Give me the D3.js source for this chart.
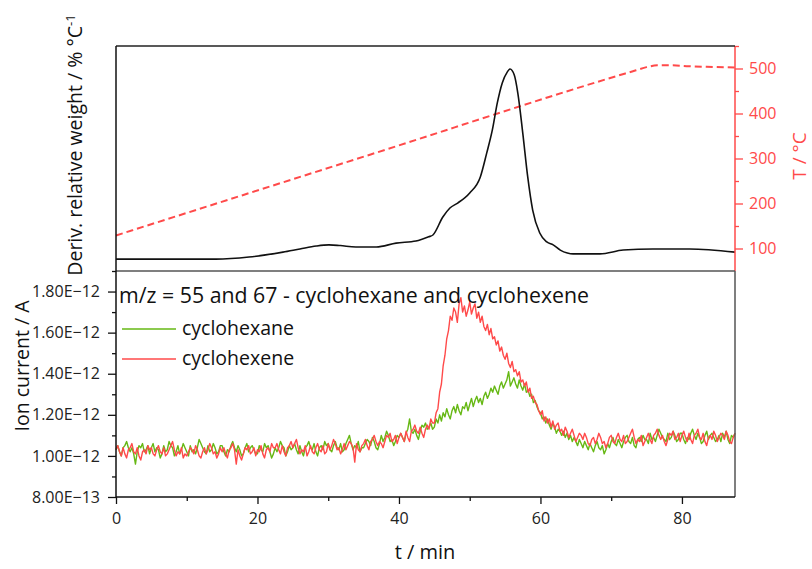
<!DOCTYPE html>
<html>
<head>
<meta charset="utf-8">
<script src="https://cdn.jsdelivr.net/npm/d3@7"></script>
<style>
  html, body { margin: 0; padding: 0; background: #fff; }
  svg { display: block; font-family: "Open Sans", "DejaVu Sans", sans-serif; }
</style>
</head>
<body>
<svg id="chart" width="812" height="569"></svg>
<script>
// ---- Data -------------------------------------------------------------
// Time axis (min)
const xTicks = [0, 20, 40, 60, 80];
// DTG curve: [time / min, derivative relative weight / % °C^-1]
const dtgTime = [0, 7.1, 14.1, 18.8, 23.6, 26.0, 28.3, 30.1, 31.7, 33.9, 36.8, 39.6, 42.4, 44.2,
  44.8, 46.2, 47.2, 48.3, 50.0, 51.5, 52.4, 53.2, 53.9, 54.6, 55.3, 55.7, 56.3, 56.8, 57.5, 58.2,
  58.9, 59.9, 60.9, 61.8, 62.8, 63.8, 64.6, 68.4, 71.7, 75.9, 81.1, 87.5];
const dtgValue = [0.053, 0.053, 0.053, 0.062, 0.084, 0.098, 0.111, 0.116, 0.113, 0.107, 0.107, 0.124, 0.133, 0.152,
  0.160, 0.240, 0.280, 0.302, 0.347, 0.418, 0.524, 0.627, 0.747, 0.836, 0.884, 0.898, 0.871, 0.791, 0.613, 0.418,
  0.271, 0.169, 0.129, 0.116, 0.093, 0.080, 0.076, 0.076, 0.093, 0.098, 0.098, 0.084];
// Furnace temperature: [time / min, T / °C]
const tempTime = [0, 36, 72, 73.5, 75, 76.5, 78.5, 81, 84.5, 87.5];
const tempValue = [129, 309, 489, 496, 503, 507, 507, 505, 503.5, 502];
const tempTicks = [100, 200, 300, 400, 500];
// Ion currents, sampled every 0.25 min from 0 to 87.5 min (units of 1e-12 A)
const msStep = 0.25;
const cyclohexane = [
  1.03,1.05,1.02,1.00,1.04,1.05,1.07,1.04,1.02,1.04,1.01,0.96,1.02,1.05,1.04,1.06,1.02,1.03,1.05,1.01,
  1.04,1.06,1.02,1.04,1.03,0.99,1.01,1.05,1.02,1.03,1.07,1.05,1.04,1.00,1.02,1.05,1.01,1.03,1.06,1.04,
  1.02,1.00,1.05,1.02,1.03,1.01,1.04,1.08,1.06,1.04,1.02,1.01,1.05,1.02,1.03,1.06,1.04,1.01,1.02,1.05,
  1.05,1.02,1.00,1.03,1.02,1.05,1.07,1.04,1.02,1.05,1.03,1.00,1.01,1.04,1.06,1.02,1.04,1.05,1.03,1.01,
  1.01,1.05,1.03,1.02,1.06,1.04,1.05,1.02,0.99,1.01,1.04,1.02,1.04,1.07,1.05,1.04,1.00,1.02,1.05,1.03,
  1.04,1.06,1.03,1.01,1.05,1.02,1.00,1.04,1.05,1.07,1.04,1.03,1.06,1.02,1.00,1.04,1.05,1.03,1.07,1.05,
  1.06,1.03,1.02,1.05,1.07,1.04,1.03,1.06,1.02,1.03,1.06,1.08,1.10,1.06,1.03,1.05,1.04,1.07,1.02,1.04,
  1.04,1.06,1.08,1.07,1.05,1.09,1.07,1.04,1.03,1.06,1.10,1.07,1.09,1.12,1.10,1.07,1.08,1.05,1.07,1.10,
  1.09,1.11,1.09,1.07,1.11,1.13,1.18,1.12,1.11,1.13,1.10,1.08,1.12,1.15,1.14,1.16,1.13,1.14,1.16,1.13,
  1.14,1.18,1.16,1.20,1.17,1.21,1.19,1.23,1.20,1.18,1.22,1.24,1.21,1.25,1.22,1.20,1.24,1.23,1.26,1.22,
  1.25,1.28,1.24,1.27,1.29,1.26,1.28,1.25,1.29,1.31,1.28,1.30,1.33,1.31,1.34,1.32,1.30,1.34,1.36,1.33,
  1.35,1.37,1.41,1.34,1.36,1.38,1.35,1.33,1.37,1.34,1.32,1.35,1.31,1.32,1.29,1.30,1.26,1.27,1.24,1.22,
  1.21,1.18,1.19,1.16,1.18,1.15,1.13,1.16,1.14,1.11,1.13,1.12,1.10,1.12,1.09,1.11,1.08,1.10,1.07,1.09,
  1.07,1.05,1.08,1.06,1.04,1.07,1.05,1.03,1.06,1.04,1.02,1.05,1.07,1.04,1.03,1.05,1.01,1.03,1.06,1.04,
  1.07,1.09,1.06,1.05,1.08,1.06,1.04,1.07,1.09,1.10,1.07,1.06,1.09,1.05,1.04,1.08,1.09,1.07,1.10,1.08,
  1.08,1.06,1.11,1.08,1.09,1.07,1.10,1.13,1.11,1.09,1.08,1.07,1.11,1.08,1.09,1.12,1.10,1.07,1.08,1.11,
  1.11,1.08,1.06,1.09,1.08,1.11,1.13,1.10,1.08,1.11,1.09,1.06,1.07,1.10,1.12,1.08,1.10,1.11,1.09,1.07,
  1.08,1.10,1.07,1.11,1.09,1.12,1.08,1.06,1.10,1.09,1.11
];
const cyclohexene = [
  1.03,1.05,1.02,1.00,1.04,1.01,0.99,1.03,1.04,1.06,1.02,1.01,1.04,1.00,0.98,1.02,1.03,1.01,1.05,1.03,
  1.04,1.01,1.00,1.03,1.05,1.02,1.01,1.04,1.00,1.01,1.03,1.05,1.07,1.03,1.00,1.02,1.01,1.04,0.99,1.01,
  1.00,1.02,1.04,1.03,1.01,1.05,1.03,1.00,0.99,1.02,1.04,1.01,1.03,1.06,1.04,1.01,1.02,0.99,1.01,1.04,
  1.02,1.04,1.01,0.99,1.03,1.04,1.06,1.03,0.96,1.03,1.00,0.98,1.01,1.04,1.03,1.05,1.01,1.02,1.04,1.00,
  1.03,1.02,1.05,1.01,0.99,1.03,1.04,1.02,1.06,1.04,1.04,1.06,1.03,1.01,1.05,1.02,1.00,1.04,1.05,1.07,
  1.04,1.06,1.08,1.04,1.01,1.03,1.02,1.05,1.00,1.02,1.05,1.02,1.01,1.04,1.06,1.03,1.02,1.05,1.01,1.02,
  1.06,1.03,1.05,1.08,1.06,1.03,1.04,1.01,1.03,1.06,1.03,1.05,1.07,1.06,1.04,0.97,1.06,1.03,1.02,1.05,
  1.06,1.08,1.05,1.03,1.07,1.08,1.10,1.07,1.05,1.07,1.06,1.04,1.07,1.10,1.09,1.11,1.07,1.08,1.10,1.06,
  1.09,1.11,1.09,1.07,1.12,1.09,1.07,1.12,1.13,1.15,1.12,1.11,1.14,1.11,1.09,1.13,1.15,1.13,1.18,1.16,
  1.16,1.21,1.23,1.31,1.35,1.44,1.49,1.57,1.61,1.68,1.66,1.72,1.70,1.65,1.74,1.77,1.70,1.73,1.68,1.71,
  1.75,1.69,1.72,1.74,1.67,1.70,1.65,1.68,1.63,1.61,1.64,1.59,1.62,1.57,1.58,1.54,1.56,1.51,1.53,1.49,
  1.47,1.50,1.45,1.43,1.46,1.41,1.42,1.39,1.41,1.36,1.37,1.34,1.36,1.31,1.33,1.28,1.29,1.26,1.25,1.22,
  1.20,1.22,1.17,1.19,1.16,1.18,1.14,1.17,1.13,1.15,1.16,1.12,1.13,1.10,1.14,1.12,1.09,1.11,1.13,1.10,
  1.07,1.09,1.11,1.10,1.08,1.11,1.09,1.06,1.05,1.08,1.09,1.06,1.08,1.11,1.09,1.06,1.07,1.04,1.06,1.09,
  1.10,1.07,1.06,1.09,1.11,1.08,1.07,1.10,1.06,1.07,1.09,1.11,1.13,1.09,1.06,1.08,1.07,1.10,1.05,1.07,
  1.09,1.11,1.08,1.06,1.10,1.11,1.13,1.10,1.08,1.10,1.07,1.05,1.08,1.11,1.10,1.12,1.08,1.09,1.11,1.07,
  1.10,1.12,1.09,1.07,1.11,1.08,1.06,1.10,1.11,1.13,1.09,1.08,1.11,1.07,1.05,1.09,1.10,1.08,1.12,1.10,
  1.07,1.09,1.11,1.10,1.08,1.12,1.10,1.07,1.06,1.09,1.11
];
const ionTicks = [0.8, 1.0, 1.2, 1.4, 1.6, 1.8];
const ionTickLabels = ["8.00E\u221213", "1.00E\u221212", "1.20E\u221212", "1.40E\u221212", "1.60E\u221212", "1.80E\u221212"];
const seriesNames = ["cyclohexane", "cyclohexene"];
const seriesColors = ["#66b814", "#ff4a4a"];

// ---- Layout -----------------------------------------------------------
const frame = { left: 116, right: 735, top: 46, mid: 271, bottom: 497 };
const svg = d3.select("#chart");
const font = "\"Open Sans\", \"DejaVu Sans\", sans-serif";
const tempColor = "#ff4a4a";

const x = d3.scaleLinear().domain([0, 87.5]).range([frame.left, frame.right]);
const yDtg = d3.scaleLinear().domain([0, 1]).range([frame.mid, frame.top]);
const yTemp = d3.scaleLinear().domain([50, 550]).range([frame.mid, frame.top]);
const yIon = d3.scaleLinear().domain([0.8, 1.9]).range([frame.bottom, frame.mid]);

// ---- Upper panel: DTG + temperature ------------------------------------
const dtg = dtgTime.map((t, i) => [t, dtgValue[i]]);
const temp = tempTime.map((t, i) => [t, tempValue[i]]);

svg.append("path")
  .datum(temp)
  .attr("fill", "none")
  .attr("stroke", tempColor)
  .attr("stroke-width", 2)
  .attr("stroke-dasharray", "7,4")
  .attr("d", d3.line().x(d => x(d[0])).y(d => yTemp(d[1])).curve(d3.curveMonotoneX));

svg.append("path")
  .datum(dtg)
  .attr("fill", "none")
  .attr("stroke", "#111")
  .attr("stroke-width", 1.6)
  .attr("d", d3.line().x(d => x(d[0])).y(d => yDtg(d[1])).curve(d3.curveMonotoneX));

// right temperature axis
const tAxis = svg.append("g")
  .attr("transform", `translate(${frame.right},0)`)
  .call(d3.axisRight(yTemp).tickValues(tempTicks).tickSize(8).tickPadding(6).tickFormat(d3.format("d")));
tAxis.select(".domain").remove();
tAxis.selectAll("line").attr("stroke", tempColor).attr("stroke-width", 1.3);
tAxis.selectAll("text").attr("fill", tempColor).style("font-family", font).style("font-size", "16px");
svg.append("g")
  .attr("transform", `translate(${frame.right},0)`)
  .call(d3.axisRight(yTemp).tickValues([150, 250, 350, 450, 550]).tickSize(4).tickFormat(""))
  .call(g => g.select(".domain").remove())
  .selectAll("line").attr("stroke", tempColor).attr("stroke-width", 1.3);
svg.append("line")
  .attr("x1", frame.right).attr("x2", frame.right).attr("y1", frame.top).attr("y2", frame.mid)
  .attr("stroke", tempColor).attr("stroke-width", 1.5);

// ---- Lower panel: ion currents ----------------------------------------
const line = d3.line().x((d, i) => x(i * msStep)).y(d => yIon(d));
[cyclohexane, cyclohexene].forEach((s, k) => {
  svg.append("path")
    .datum(s)
    .attr("fill", "none")
    .attr("stroke", seriesColors[k])
    .attr("stroke-width", 1.4)
    .attr("stroke-linejoin", "round")
    .attr("d", line);
});

// left ion axis
const iAxis = svg.append("g")
  .attr("transform", `translate(${frame.left},0)`)
  .call(d3.axisLeft(yIon).tickValues(ionTicks).tickSize(8).tickPadding(8)
    .tickFormat((d, i) => ionTickLabels[i]));
iAxis.select(".domain").remove();
iAxis.selectAll("line").attr("stroke", "#111").attr("stroke-width", 1.3);
iAxis.selectAll("text").attr("fill", "#222").style("font-family", font).style("font-size", "16px");
svg.append("g")
  .attr("transform", `translate(${frame.left},0)`)
  .call(d3.axisLeft(yIon).tickValues([0.9, 1.1, 1.3, 1.5, 1.7, 1.9]).tickSize(4).tickFormat(""))
  .call(g => g.select(".domain").remove())
  .selectAll("line").attr("stroke", "#111").attr("stroke-width", 1.3);

// bottom time axis
const xAxis = svg.append("g")
  .attr("transform", `translate(0,${frame.bottom})`)
  .call(d3.axisBottom(x).tickValues(xTicks).tickSize(7).tickPadding(9).tickFormat(d3.format("d")));
xAxis.select(".domain").remove();
xAxis.selectAll("line").attr("stroke", "#111").attr("stroke-width", 1.3);
xAxis.selectAll("text").attr("fill", "#222").style("font-family", font).style("font-size", "16px");
svg.append("g")
  .attr("transform", `translate(0,${frame.bottom})`)
  .call(d3.axisBottom(x).tickValues([10, 30, 50, 70]).tickSize(4).tickFormat(""))
  .call(g => g.select(".domain").remove())
  .selectAll("line").attr("stroke", "#111").attr("stroke-width", 1.3);

// ---- Frames -------------------------------------------------------------
svg.append("line").attr("x1", frame.left).attr("x2", frame.right).attr("y1", frame.top).attr("y2", frame.top)
  .attr("stroke", "#222").attr("stroke-width", 1.5);
svg.append("line").attr("x1", frame.left).attr("x2", frame.right).attr("y1", frame.mid).attr("y2", frame.mid)
  .attr("stroke", "#555").attr("stroke-width", 1.5);
svg.append("line").attr("x1", frame.right).attr("x2", frame.right).attr("y1", frame.mid).attr("y2", frame.bottom)
  .attr("stroke", "#555").attr("stroke-width", 1.5);
svg.append("line").attr("x1", frame.left).attr("x2", frame.left).attr("y1", frame.top).attr("y2", frame.bottom)
  .attr("stroke", "#111").attr("stroke-width", 1.5);
svg.append("line").attr("x1", frame.left).attr("x2", frame.right).attr("y1", frame.bottom).attr("y2", frame.bottom)
  .attr("stroke", "#111").attr("stroke-width", 1.5);

// ---- Annotation & legend ---------------------------------------------------
svg.append("text")
  .attr("x", 119).attr("y", 303)
  .attr("fill", "#111").style("font-family", font).style("font-size", "21.3px")
  .text("m/z = 55 and 67 - cyclohexane and cyclohexene");

seriesNames.forEach((name, k) => {
  const yy = 329 + k * 30;
  svg.append("line").attr("x1", 122).attr("x2", 176).attr("y1", yy).attr("y2", yy)
    .attr("stroke", seriesColors[k]).attr("stroke-width", 1.5);
  svg.append("text").attr("x", 182).attr("y", yy + 6)
    .attr("fill", "#111").style("font-family", font).style("font-size", "19.5px")
    .text(name);
});

// ---- Axis titles -------------------------------------------------------
svg.append("text")
  .attr("transform", "translate(425,559)")
  .attr("text-anchor", "middle")
  .attr("fill", "#111").style("font-family", font).style("font-size", "20px")
  .text("t / min");

svg.append("text")
  .attr("transform", "translate(29,366) rotate(-90)")
  .attr("text-anchor", "middle")
  .attr("fill", "#111").style("font-family", font).style("font-size", "19.5px")
  .text("Ion current / A");

const dl = svg.append("text")
  .attr("transform", "translate(82,145) rotate(-90)")
  .attr("text-anchor", "middle")
  .attr("fill", "#111").style("font-family", font).style("font-size", "19.5px");
dl.append("tspan").text("Deriv. relative weight / % \u00B0C");
dl.append("tspan").attr("dy", -7).style("font-size", "13px").text("-1");

svg.append("text")
  .attr("transform", "translate(806,156) rotate(-90)")
  .attr("text-anchor", "middle")
  .attr("fill", tempColor).style("font-family", font).style("font-size", "19px")
  .text("T / \u00B0C");
</script>
</body>
</html>
